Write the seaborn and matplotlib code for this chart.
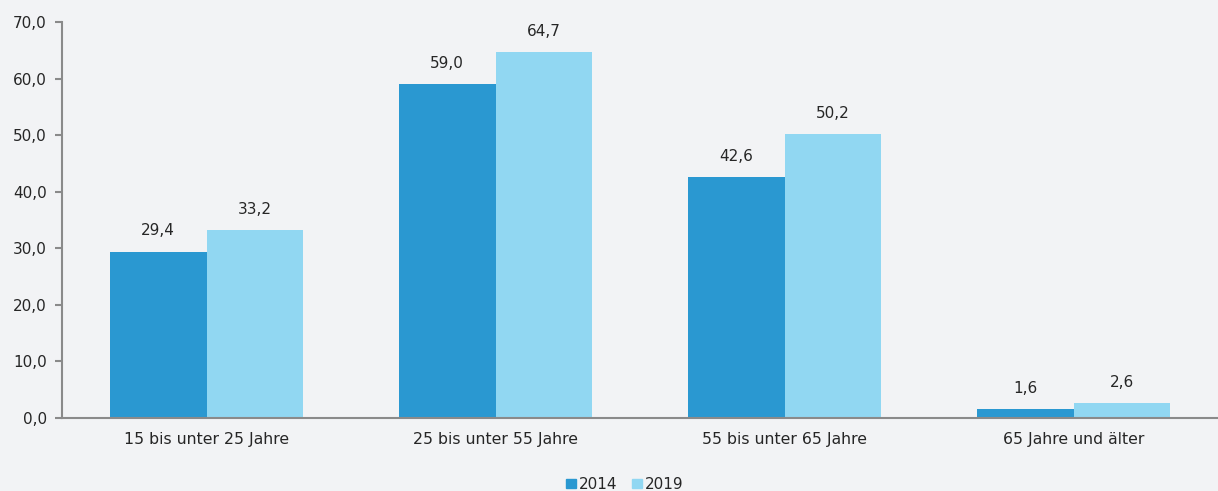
import seaborn as sns
import pandas as pd
import matplotlib.pyplot as plt
from matplotlib.patches import Patch

categories = ['15 bis unter 25 Jahre', '25 bis unter 55 Jahre', '55 bis unter 65 Jahre', '65 Jahre und älter']
values_2014 = [29.4, 59.0, 42.6, 1.6]
values_2019 = [33.2, 64.7, 50.2, 2.6]
years = ['2014', '2019']
colors = ['#2a98d1', '#91d7f2']

df = pd.DataFrame({
    'Gruppe': categories * 2,
    'Jahr': [years[0]] * 4 + [years[1]] * 4,
    'Wert': values_2014 + values_2019,
})

bg = '#f2f3f5'
plt.rcParams['font.family'] = 'sans-serif'
plt.rcParams['font.sans-serif'] = ['DejaVu Sans']
fig = plt.figure(figsize=(12.18, 4.91), dpi=100, facecolor=bg)
ax = fig.add_axes([0.051, 0.149, 0.949, 0.806], facecolor=bg)

sns.barplot(data=df, x='Gruppe', y='Wert', hue='Jahr', palette=colors,
            width=0.67, saturation=1, ax=ax, legend=False)

fs = 11
for cont in ax.containers:
    ax.bar_label(cont, labels=[f'{v:.1f}'.replace('.', ',') for v in cont.datavalues],
                 padding=9.5, fontsize=fs, color='#262626')

ax.set_ylim(0, 70)
ax.set_xlim(-0.5, 3.5)
ax.set_yticks(range(0, 71, 10))
ax.set_yticklabels([f'{v:.1f}'.replace('.', ',') for v in range(0, 71, 10)])
ax.set_xlabel('')
ax.set_ylabel('')
ax.tick_params(axis='y', length=5, width=1.5, color='#8a8a8a', labelsize=fs, labelcolor='#262626', pad=6)
ax.tick_params(axis='x', length=0, labelsize=11.3, labelcolor='#262626', pad=10.5)
for s in ['top', 'right']:
    ax.spines[s].set_visible(False)
for s in ['left', 'bottom']:
    ax.spines[s].set_color('#8a8a8a')
    ax.spines[s].set_linewidth(1.5)

handles = [Patch(color=c, label=y) for c, y in zip(colors, years)]
fig.legend(handles=handles, loc='lower center', bbox_to_anchor=(0.513, -0.03), ncol=2,
           frameon=False, fontsize=fs, handlelength=0.6, handleheight=0.6,
           handletextpad=0.2, columnspacing=1.0, labelcolor='#262626')

fig.savefig('out.png', dpi=100, facecolor=bg)
